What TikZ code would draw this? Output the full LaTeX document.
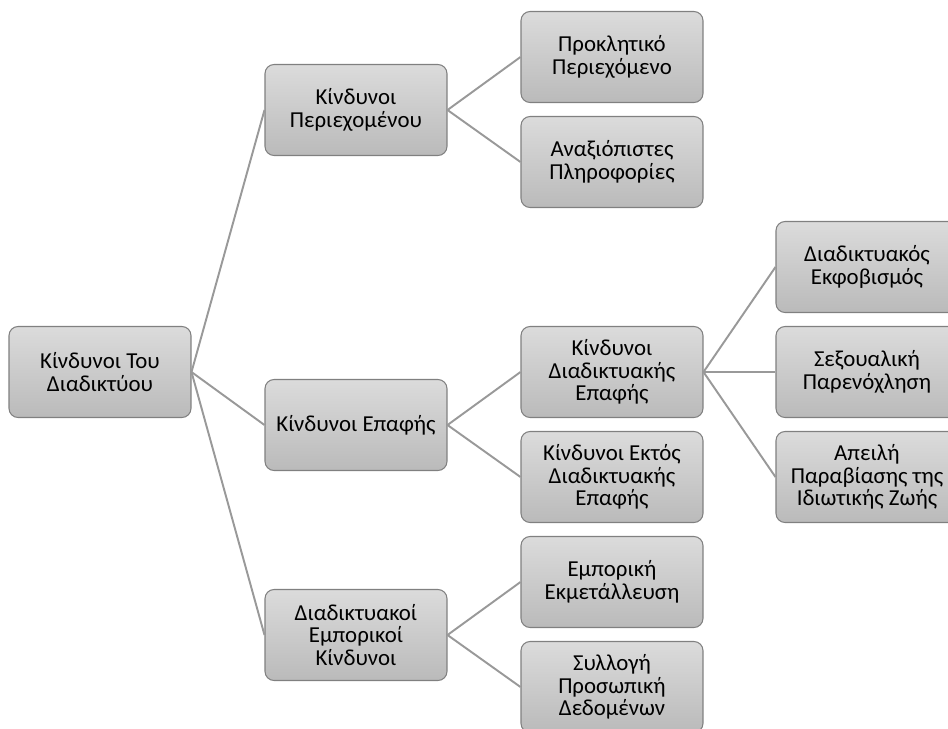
\documentclass[tikz,border=0pt]{standalone}
\usepackage{fontspec}
\setmainfont{Carlito}
\usepackage{tikz}

\begin{document}
\begin{tikzpicture}[x=0.02cm,y=-0.02cm,
                    every node/.style={font=\fontsize{13}{12.9}\selectfont},
                    semithick]
  \tikzstyle{risk}=[draw=black!50,rounded corners=0.18cm,top color=black!14,
                    bottom color=black!27,text=black,align=center,
                    minimum width=3.64cm,minimum height=1.82cm,inner sep=1pt]
  \tikzstyle{link}=[draw=black!40,line width=1.1pt]

  \useasboundingbox (0,0) rectangle (948,728);
  \clip (0,0) rectangle (948,728);

  \node[risk] (root)  at (100,372) {Κίνδυνοι Του\\Διαδικτύου};

  \node[risk] (cont)  at (356,110) {Κίνδυνοι\\Περιεχομένου};
  \node[risk] (cntc)  at (356,425) {Κίνδυνοι Επαφής};
  \node[risk] (comm)  at (356,635) {Διαδικτυακοί\\Εμπορικοί\\Κίνδυνοι};

  \node[risk] (prov)  at (612,57)  {Προκλητικό\\Περιεχόμενο};
  \node[risk] (unrel) at (612,162) {Αναξιόπιστες\\Πληροφορίες};
  \node[risk] (onl)   at (612,372) {Κίνδυνοι\\Διαδικτυακής\\Επαφής};
  \node[risk] (offl)  at (612,477) {Κίνδυνοι Εκτός\\Διαδικτυακής\\Επαφής};
  \node[risk] (expl)  at (612,582) {Εμπορική\\Εκμετάλλευση};
  \node[risk] (data)  at (612,687) {Συλλογή\\Προσωπική\\Δεδομένων};

  \node[risk] (bully) at (867,267) {Διαδικτυακός\\Εκφοβισμός};
  \node[risk] (harr)  at (867,372) {Σεξουαλική\\Παρενόχληση};
  \node[risk] (priv)  at (867,477) {Απειλή\\Παραβίασης της\\Ιδιωτικής Ζωής};

  \path[link] (root.east) edge (cont.west)
              (root.east) edge (cntc.west)
              (root.east) edge (comm.west)
              (cont.east) edge (prov.west)
              (cont.east) edge (unrel.west)
              (cntc.east) edge (onl.west)
              (cntc.east) edge (offl.west)
              (comm.east) edge (expl.west)
              (comm.east) edge (data.west)
              (onl.east)  edge (bully.west)
              (onl.east)  edge (harr.west)
              (onl.east)  edge (priv.west);
\end{tikzpicture}
\end{document}
